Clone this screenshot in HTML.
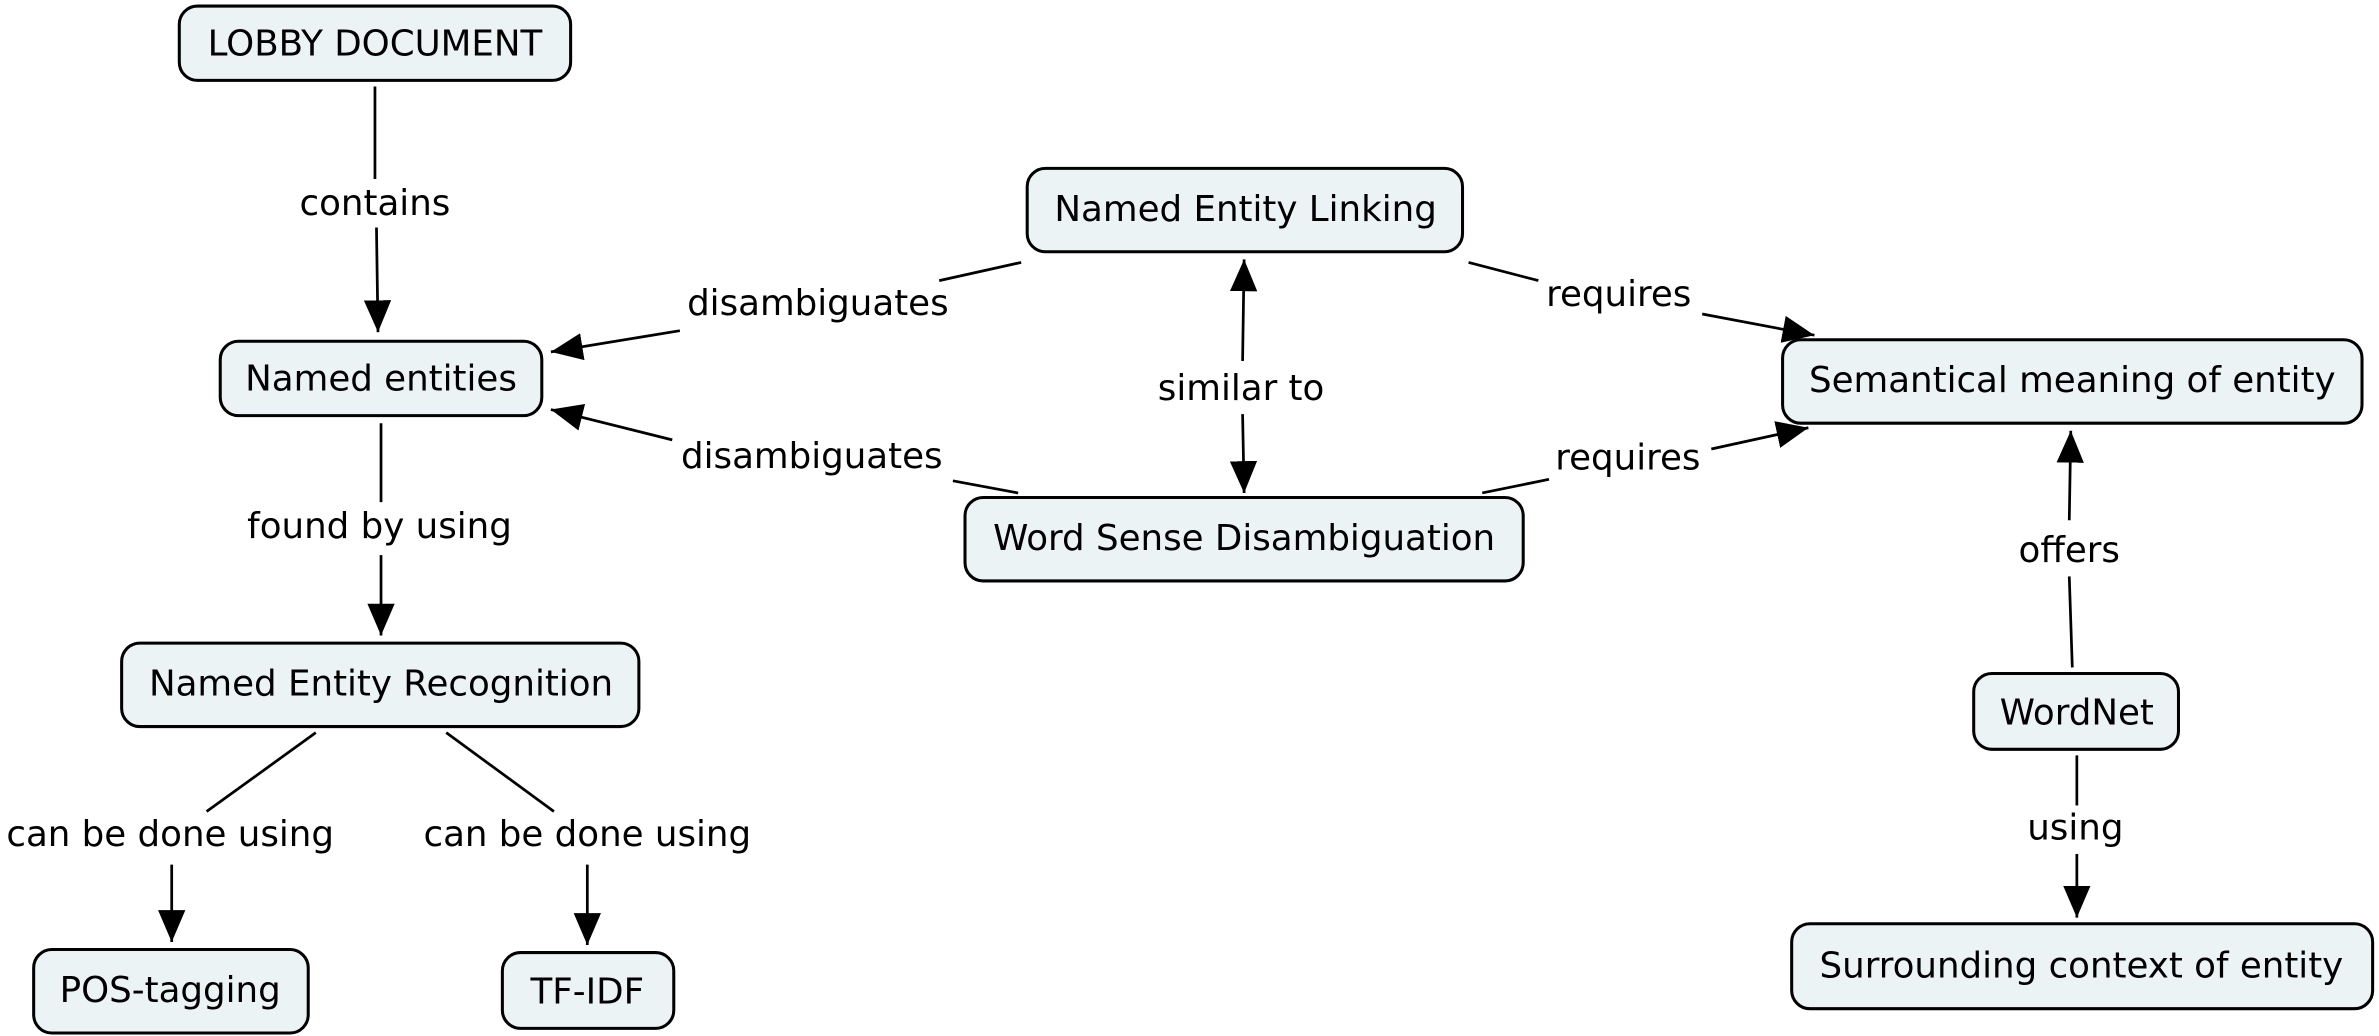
<!DOCTYPE html>
<html><head><meta charset="utf-8"><style>
html,body{margin:0;padding:0;background:#fff;}
svg{display:block;}
text{font-family:"DejaVu Sans","Liberation Sans",sans-serif;font-size:23.5px;fill:#000;dominant-baseline:central;text-anchor:middle;}
rect{fill:#ebf3f5;stroke:#000;stroke-width:2;}
line{stroke:#000;stroke-width:1.8;}
</style></head><body>
<svg width="2379" height="1036" viewBox="0 0 1568 683" xmlns="http://www.w3.org/2000/svg">
<defs>
<marker id="a" markerWidth="22" markerHeight="18" refX="21" refY="9" orient="auto" markerUnits="userSpaceOnUse">
<path d="M0,0 L21,9 L0,18 Z" fill="#000"/>
</marker>
</defs>
<rect x="118" y="4" width="258" height="49" rx="12"/><text x="247" y="29">LOBBY DOCUMENT</text>
<rect x="145" y="225" width="212" height="49" rx="12"/><text x="251" y="250">Named entities</text>
<rect x="677" y="111" width="287" height="55" rx="12"/><text x="821" y="138">Named Entity Linking</text>
<rect x="636" y="328" width="368" height="55" rx="12"/><text x="820" y="355">Word Sense Disambiguation</text>
<rect x="1175" y="224" width="382" height="55" rx="12"/><text x="1366" y="251">Semantical meaning of entity</text>
<rect x="80" y="424" width="341" height="55" rx="12"/><text x="251" y="451">Named Entity Recognition</text>
<rect x="22" y="626" width="181" height="55" rx="12"/><text x="112" y="653">POS-tagging</text>
<rect x="331" y="628" width="113" height="50" rx="12"/><text x="387" y="654">TF-IDF</text>
<rect x="1301" y="444" width="135" height="50" rx="12"/><text x="1369" y="470">WordNet</text>
<rect x="1181" y="609" width="383" height="56" rx="12"/><text x="1372" y="637">Surrounding context of entity</text>
<line x1="247" y1="57" x2="247" y2="118"/><text x="247" y="134">contains</text>
<line x1="248" y1="150" x2="249" y2="219" marker-end="url(#a)"/>
<line x1="251" y1="279" x2="251" y2="331"/><text x="250" y="347">found by using</text>
<line x1="251" y1="366" x2="251" y2="419" marker-end="url(#a)"/>
<line x1="673" y1="173" x2="619" y2="185"/><text x="539" y="200">disambiguates</text>
<line x1="448" y1="218" x2="363" y2="232" marker-end="url(#a)"/>
<line x1="671" y1="325" x2="628" y2="317"/><text x="535" y="301">disambiguates</text>
<line x1="443" y1="290" x2="363" y2="270" marker-end="url(#a)"/>
<line x1="819" y1="238" x2="820" y2="171" marker-end="url(#a)"/><text x="818" y="256">similar to</text>
<line x1="819" y1="273" x2="820" y2="325" marker-end="url(#a)"/>
<line x1="968" y1="173" x2="1014" y2="185"/><text x="1067" y="194">requires</text>
<line x1="1122" y1="207" x2="1196" y2="221" marker-end="url(#a)"/>
<line x1="977" y1="325" x2="1021" y2="316"/><text x="1073" y="302">requires</text>
<line x1="1128" y1="296" x2="1192" y2="282" marker-end="url(#a)"/>
<line x1="1366" y1="440" x2="1364" y2="380"/><text x="1364" y="363">offers</text>
<line x1="1364" y1="343" x2="1365" y2="284" marker-end="url(#a)"/>
<line x1="1369" y1="498" x2="1369" y2="531"/><text x="1368" y="546">using</text>
<line x1="1369" y1="563" x2="1369" y2="605" marker-end="url(#a)"/>
<line x1="208" y1="483" x2="136" y2="535"/><text x="112" y="550">can be done using</text>
<line x1="113" y1="570" x2="113" y2="621" marker-end="url(#a)"/>
<line x1="294" y1="483" x2="365" y2="535"/><text x="387" y="550">can be done using</text>
<line x1="387" y1="570" x2="387" y2="623" marker-end="url(#a)"/>
</svg>
</body></html>
